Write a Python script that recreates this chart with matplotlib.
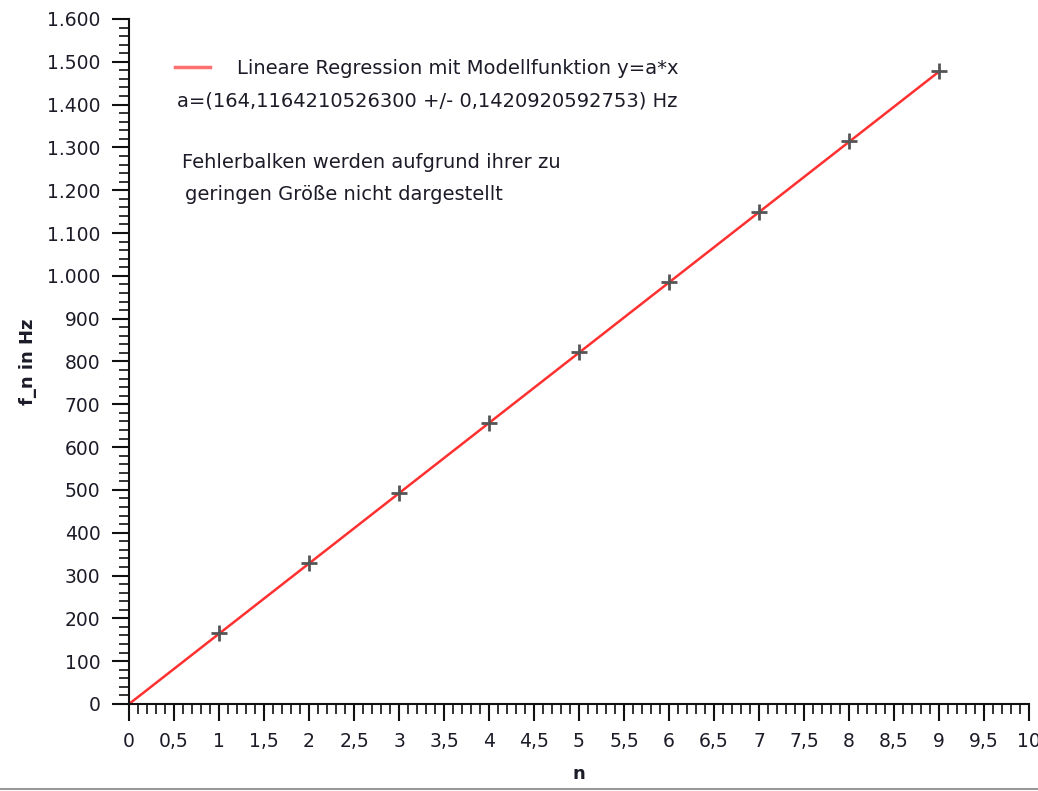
import numpy as np
import matplotlib.pyplot as plt
from matplotlib.ticker import MultipleLocator, FuncFormatter
from matplotlib.lines import Line2D

# measured frequencies f_n (Hz) for harmonic number n
n = [1, 2, 3, 4, 5, 6, 7, 8, 9]
f_n = [165, 329, 493, 657, 821, 985, 1150, 1314, 1478]

a = 164.1164210526300  # fitted slope
n_fit = [0, 9]

plt.rcParams['font.family'] = ['DejaVu Sans']
txt = '#1c1c28'

fig = plt.figure(figsize=(10.38, 7.91), dpi=100)
ax = fig.add_axes([0.1243, 0.110, 0.867, 0.866])

ax.plot(n_fit, [a * x for x in n_fit], color='#ff3030', lw=1.8, zorder=2)
ax.plot(n, f_n, ls='none', marker='+', ms=11, mew=2, color='#555555', zorder=3)

ax.set_xlim(0, 10)
ax.set_ylim(0, 1600)

ax.spines['top'].set_visible(False)
ax.spines['right'].set_visible(False)
for s in ('left', 'bottom'):
    ax.spines[s].set_linewidth(1.5)
    ax.spines[s].set_color('#111111')

ax.xaxis.set_major_locator(MultipleLocator(0.5))
ax.xaxis.set_minor_locator(MultipleLocator(0.1))
ax.yaxis.set_major_locator(MultipleLocator(100))
ax.yaxis.set_minor_locator(MultipleLocator(20))

ax.xaxis.set_major_formatter(FuncFormatter(lambda v, p: ('%g' % v).replace('.', ',')))
ax.yaxis.set_major_formatter(FuncFormatter(lambda v, p: '{:,.0f}'.format(v).replace(',', '.')))

ax.tick_params(which='major', length=12.5, width=1.5, color='#111111',
               labelsize=13.5, labelcolor=txt)
ax.tick_params(axis='y', which='major', pad=8)
ax.tick_params(axis='x', which='major', pad=8)
ax.tick_params(which='minor', length=7, width=1.2, color='#111111')

ax.set_xlabel('n', fontsize=13, fontweight='bold', color=txt, labelpad=10)
ax.set_ylabel('f_n in Hz', fontsize=13, fontweight='bold', color=txt, labelpad=7)

# legend / annotation block
fig.add_artist(Line2D([175 / 1038, 210 / 1038], [1 - 67 / 791, 1 - 67 / 791],
                      color='#ff7070', lw=2.5))
fs = 14
fig.text(237 / 1038, 1 - 69 / 791, 'Lineare Regression mit Modellfunktion y=a*x',
         fontsize=fs, color=txt, va='center')
fig.text(177 / 1038, 1 - 101 / 791, 'a=(164,1164210526300 +/- 0,1420920592753) Hz',
         fontsize=fs, color=txt, va='center')
fig.text(182 / 1038, 1 - 163 / 791, 'Fehlerbalken werden aufgrund ihrer zu',
         fontsize=fs, color=txt, va='center')
fig.text(185 / 1038, 1 - 195 / 791, 'geringen Größe nicht dargestellt',
         fontsize=fs, color=txt, va='center')

fig.add_artist(Line2D([0, 1], [0.003, 0.003], color='#999999', lw=1.5))

fig.savefig('out.png', dpi=100)
